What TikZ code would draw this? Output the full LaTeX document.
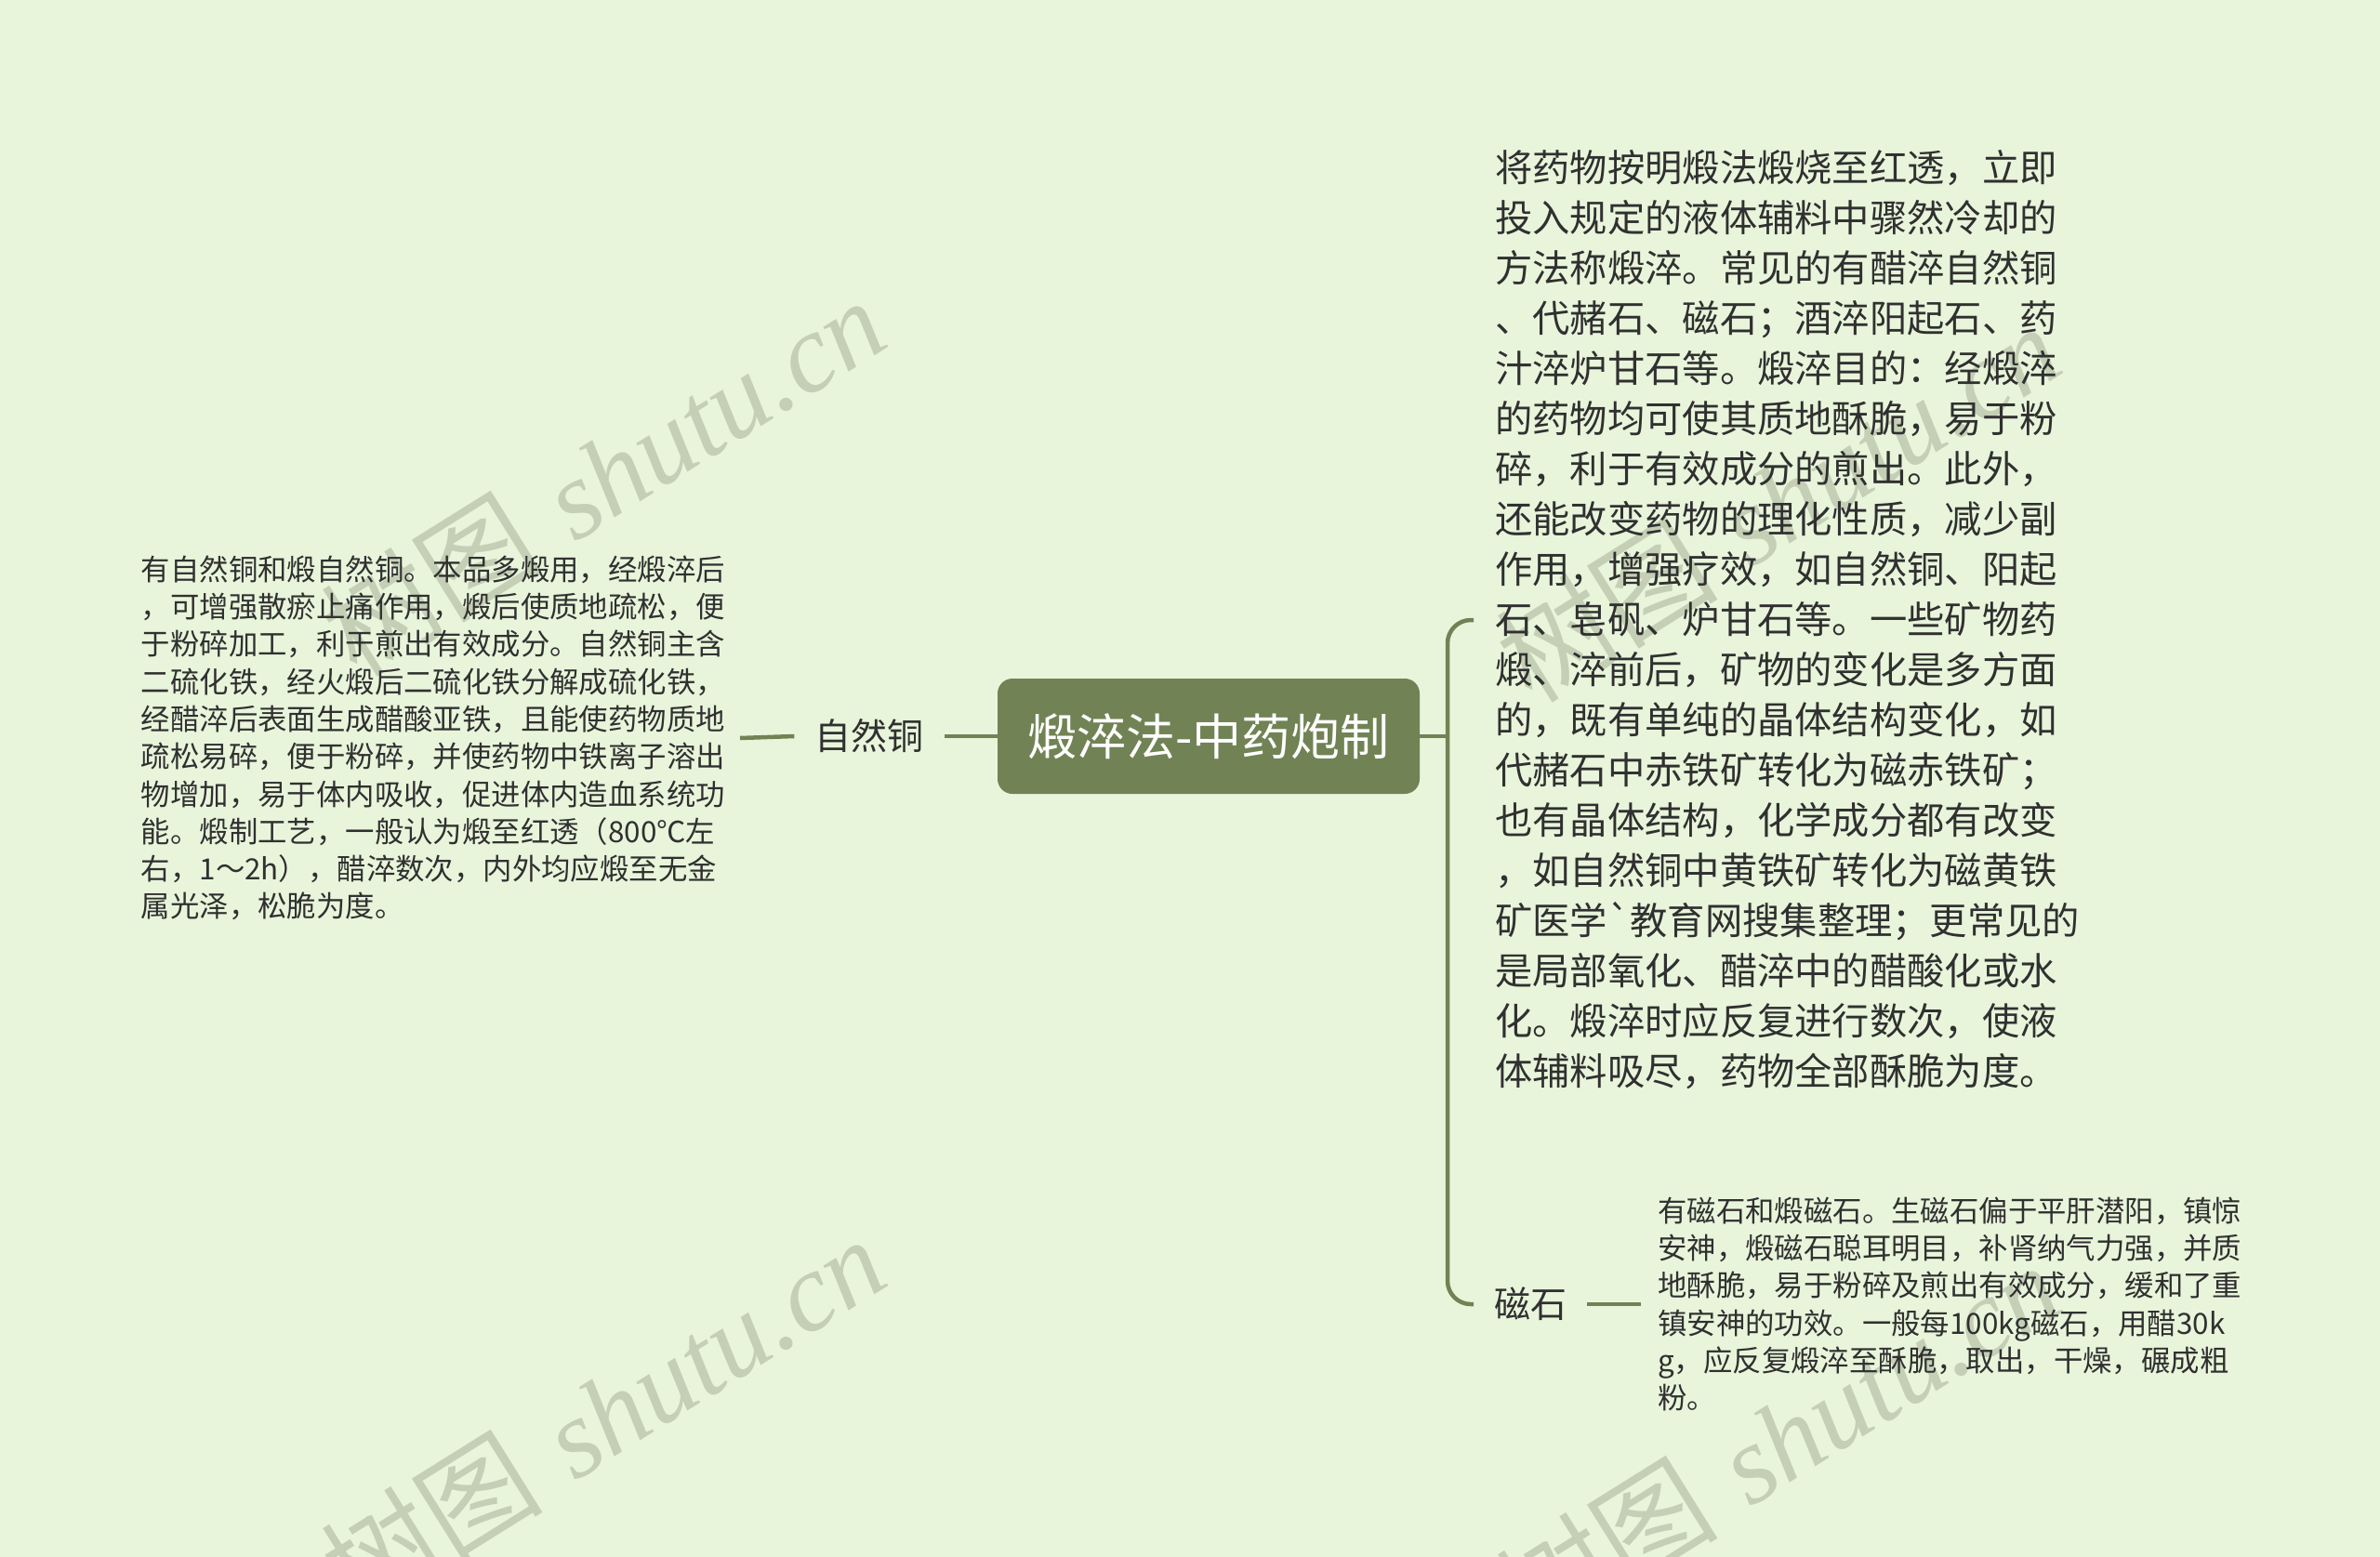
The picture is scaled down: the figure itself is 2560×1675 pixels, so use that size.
\documentclass[tikz,border=0pt]{standalone}
\usepackage{fontspec}
\newfontfamily\cjk{Noto Sans CJK SC}
\newfontfamily\wmserif{Liberation Serif}
\definecolor{bgc}{HTML}{E8F5DB}
\definecolor{olive}{HTML}{718354}
\definecolor{txt}{HTML}{303030}
\definecolor{wm}{HTML}{C4CFB6}
\tikzset{
  rootbox/.style={rectangle, rounded corners=16pt, fill=olive, text=white,
    minimum width=454pt, minimum height=124pt, inner sep=0pt,
    font=\cjk\fontsize{53}{60}\selectfont},
  branchlab/.style={text=txt, inner xsep=22pt, inner ysep=4pt,
    font=\cjk\fontsize{39}{45}\selectfont},
  leaftext/.style={text=txt, align=left, inner xsep=16pt, inner ysep=0pt,
    font=\cjk\fontsize{31.4}{40.3}\selectfont},
  bigtext/.style={text=txt, align=left, inner xsep=23pt, inner ysep=0pt,
    font=\cjk\fontsize{40.3}{54}\selectfont},
  conn/.style={draw=olive, line width=4.5pt},
  wmark/.style={text=wm, rotate=32, inner sep=0pt,
    font=\fontsize{120}{120}\selectfont}
}
\begin{document}
\begin{tikzpicture}[x=1pt,y=-1pt]
\fill[bgc] (0,0) rectangle (2560,1675);
\useasboundingbox (0,0) rectangle (2560,1675);
\clip (0,0) rectangle (2560,1675);

% watermarks
\node[wmark] (wm1) at (648,512) {{\cjk 树图} {\wmserif\itshape shutu.cn}};
\node[wmark] (wm2) at (648,1522) {{\cjk 树图} {\wmserif\itshape shutu.cn}};
\node[wmark] (wm3) at (1912,540) {{\cjk 树图} {\wmserif\itshape shutu.cn}};
\node[wmark] (wm4) at (1912,1550) {{\cjk 树图} {\wmserif\itshape shutu.cn}};

% nodes
\node[rootbox] (root) at (1300,792) {煅淬法-中药炮制};
\node[branchlab] (zrt) at (935,792) {自然铜};
\node[leaftext, anchor=east] (zrtd) at (796,794) {有自然铜和煅自然铜。本品多煅用，经煅淬后\\
，可增强散瘀止痛作用，煅后使质地疏松，便\\
于粉碎加工，利于煎出有效成分。自然铜主含\\
二硫化铁，经火煅后二硫化铁分解成硫化铁，\\
经醋淬后表面生成醋酸亚铁，且能使药物质地\\
疏松易碎，便于粉碎，并使药物中铁离子溶出\\
物增加，易于体内吸收，促进体内造血系统功\\
能。煅制工艺，一般认为煅至红透（800℃左\\
右，1～2h），醋淬数次，内外均应煅至无金\\
属光泽，松脆为度。};

\node[bigtext, anchor=west] (def) at (1585,667) {将药物按明煅法煅烧至红透，立即\\
投入规定的液体辅料中骤然冷却的\\
方法称煅淬。常见的有醋淬自然铜\\
、代赭石、磁石；酒淬阳起石、药\\
汁淬炉甘石等。煅淬目的：经煅淬\\
的药物均可使其质地酥脆，易于粉\\
碎，利于有效成分的煎出。此外，\\
还能改变药物的理化性质，减少副\\
作用，增强疗效，如自然铜、阳起\\
石、皂矾、炉甘石等。一些矿物药\\
煅、淬前后，矿物的变化是多方面\\
的，既有单纯的晶体结构变化，如\\
代赭石中赤铁矿转化为磁赤铁矿；\\
也有晶体结构，化学成分都有改变\\
，如自然铜中黄铁矿转化为磁黄铁\\
矿医学`教育网搜集整理；更常见的\\
是局部氧化、醋淬中的醋酸化或水\\
化。煅淬时应反复进行数次，使液\\
体辅料吸尽，药物全部酥脆为度。};

\node[branchlab, anchor=west] (cs) at (1585,1403) {磁石};
\node[leaftext, anchor=west, inner xsep=18pt] (csd) at (1765,1403) {有磁石和煅磁石。生磁石偏于平肝潜阳，镇惊\\
安神，煅磁石聪耳明目，补肾纳气力强，并质\\
地酥脆，易于粉碎及煎出有效成分，缓和了重\\
镇安神的功效。一般每100kg磁石，用醋30k\\
g，应反复煅淬至酥脆，取出，干燥，碾成粗\\
粉。};

% connectors
\coordinate (hub) at (1557,792);
\draw[conn] (root.west) -- (zrt.east);
\draw[conn] (zrt.west) -- (zrtd.east);
\draw[conn] (root.east) -- (hub);
\draw[conn, rounded corners=25pt] (def.west) -| (hub) |- (cs.west);
\draw[conn] (cs.east) -- (csd.west);
\end{tikzpicture}
\end{document}
